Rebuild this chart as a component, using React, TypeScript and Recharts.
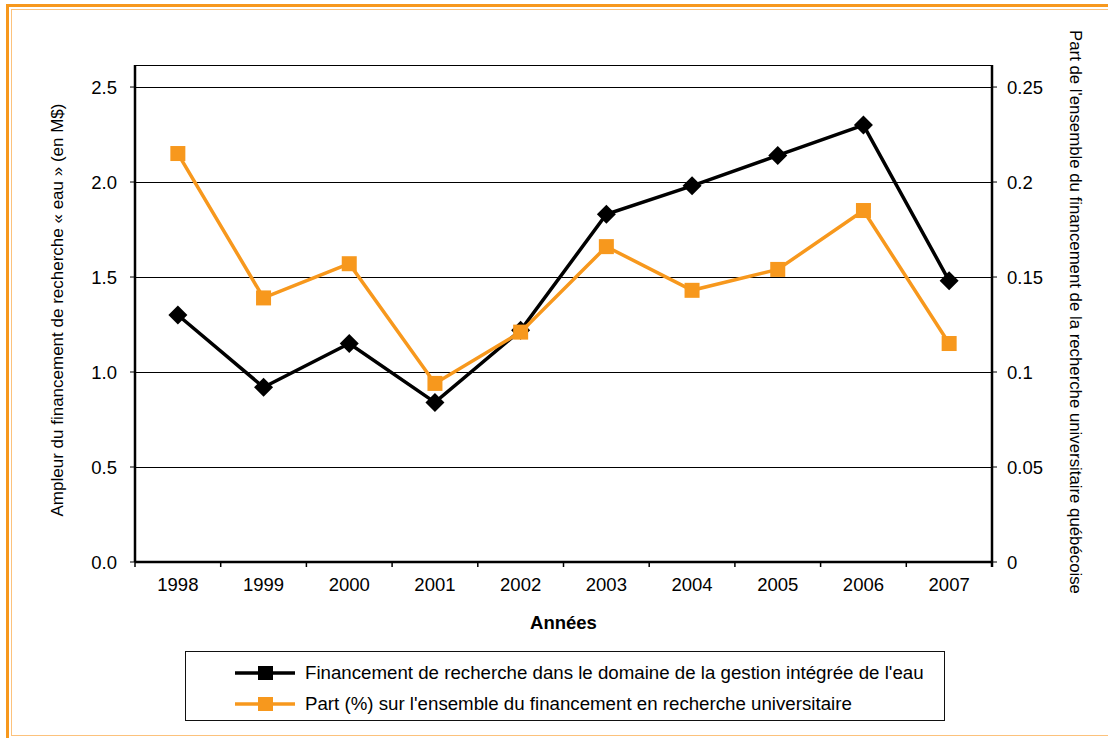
import { CartesianGrid, Legend, Line, LineChart, XAxis, YAxis } from "recharts";

const years = ["1998", "1999", "2000", "2001", "2002", "2003", "2004", "2005", "2006", "2007"];
// ampleur du financement "eau" (M$), left axis
const funding = [1.3, 0.92, 1.15, 0.84, 1.22, 1.83, 1.98, 2.14, 2.3, 1.48];
// part de l'ensemble du financement, right axis
const share = [0.215, 0.139, 0.157, 0.094, 0.121, 0.166, 0.143, 0.154, 0.185, 0.115];
const leftTicks = [0, 0.5, 1, 1.5, 2, 2.5];
const rightTicks = [0, 0.05, 0.1, 0.15, 0.2, 0.25];

const fundingName = "Financement de recherche dans le domaine de la gestion intégrée de l'eau";
const shareName = "Part (%) sur l'ensemble du financement en recherche universitaire";
const leftTitle = "Ampleur du financement de recherche « eau » (en M$)";
const rightTitle = "Part de l'ensemble du financement de la recherche universitaire québécoise";
const xTitle = "Années";

const data = years.map((year, i) => ({ year, funding: funding[i], share: share[i] }));

const FONT = "'Liberation Sans', Arial, Helvetica, sans-serif";
const ORANGE = "#F7981D";
const W = 1108;
const H = 738;
const margin = { top: 65, right: 16, bottom: 136, left: 20 };
const leftAxisW = 115;
const rightAxisW = 100;
const plotW = W - margin.left - margin.right - leftAxisW - rightAxisW;
const band = plotW / years.length;

function Diamond(props: any) {
  const { cx, cy, index } = props;
  if (cx == null || cy == null) return null;
  const r = 9.5;
  return (
    <polygon
      key={`dia-${index}`}
      points={`${cx},${cy - r} ${cx + r},${cy} ${cx},${cy + r} ${cx - r},${cy}`}
      fill="#000"
    />
  );
}

function Square(props: any) {
  const { cx, cy, index } = props;
  if (cx == null || cy == null) return null;
  const s = 15;
  return <rect key={`sq-${index}`} x={cx - s / 2} y={cy - s / 2} width={s} height={s} fill={ORANGE} />;
}

function YearTick(props: any) {
  const { x, y, payload, index } = props;
  const half = band / 2;
  return (
    <g>
      <line x1={x - half} x2={x - half} y1={y} y2={y + 5} stroke="#000" strokeWidth={1.5} />
      {index === years.length - 1 && (
        <line x1={x + half} x2={x + half} y1={y} y2={y + 5} stroke="#000" strokeWidth={2.5} />
      )}
      <text x={x} y={y + 29} textAnchor="middle" fontSize={18.5} fontFamily={FONT} fill="#000">
        {payload.value}
      </text>
    </g>
  );
}

function LegendBox(props: any) {
  const items = props.payload || [];
  return (
    <div
      style={{
        width: 760,
        height: 70,
        border: "1px solid #111",
        boxSizing: "border-box",
        paddingTop: 5,
        background: "#fff",
        fontFamily: FONT,
        fontSize: 18.7,
        color: "#000",
      }}
    >
      {items.map((it: any) => (
        <div key={it.value} style={{ display: "flex", alignItems: "center", height: 31, paddingLeft: 49 }}>
          <svg width={60} height={16} style={{ marginRight: 10 }}>
            <line x1={0} x2={60} y1={8} y2={8} stroke={it.color} strokeWidth={3.5} />
            <rect x={23} y={1} width={15} height={14} fill={it.color} />
          </svg>
          <span style={{ whiteSpace: "nowrap" }}>{it.value}</span>
        </div>
      ))}
    </div>
  );
}

export default function App() {
  return (
    <div style={{ position: "absolute", left: 0, top: 0, width: W, height: H, overflow: "hidden", background: "#fff" }}>
      <div
        style={{
          position: "absolute",
          left: 6,
          top: 4,
          width: 1140,
          height: 760,
          border: `3px solid ${ORANGE}`,
          boxSizing: "border-box",
        }}
      />
      <div
        style={{
          position: "absolute",
          left: 11,
          top: 9,
          width: 1140,
          height: 727,
          border: "1.5px solid #FCC27C",
          boxSizing: "border-box",
        }}
      />
      <div style={{ position: "absolute", left: 0, top: 0 }}>
        <LineChart width={W} height={H} data={data} margin={margin}>
          <CartesianGrid yAxisId="left" vertical={false} stroke="#000" strokeWidth={1} shapeRendering="crispEdges" />
          <XAxis
            dataKey="year"
            padding={{ left: band / 2, right: band / 2 }}
            axisLine={{ stroke: "#000", strokeWidth: 2.5 }}
            tickLine={false}
            tickSize={0}
            tickMargin={0}
            height={40}
            tick={<YearTick />}
            interval={0}
            label={{
              content: (p: any) => {
                const vb = p.viewBox;
                return (
                  <text
                    x={vb.x + vb.width / 2}
                    y={vb.y + 67}
                    textAnchor="middle"
                    fontFamily={FONT}
                    fontWeight="bold"
                    fontSize={18.5}
                    fill="#000"
                  >
                    {xTitle}
                  </text>
                );
              },
            }}
          />
          <YAxis
            yAxisId="left"
            width={leftAxisW}
            domain={[0, 2.616]}
            ticks={leftTicks}
            tickFormatter={(v: number) => v.toFixed(1)}
            axisLine={{ stroke: "#000", strokeWidth: 2.5 }}
            tickLine={{ stroke: "#000", strokeWidth: 1 }}
            tickSize={5}
            tickMargin={13}
            tick={{ fill: "#000", fontSize: 18.5, fontFamily: FONT }}
            label={{
              content: (p: any) => {
                const vb = p.viewBox;
                const cx = vb.x + 37;
                const cy = 310;
                return (
                  <text
                    x={cx}
                    y={cy}
                    transform={`rotate(-90, ${cx}, ${cy})`}
                    textAnchor="middle"
                    dominantBaseline="central"
                    fontFamily={FONT}
                    fontSize={17}
                    fill="#000"
                  >
                    {leftTitle}
                  </text>
                );
              },
            }}
          />
          <YAxis
            yAxisId="right"
            orientation="right"
            width={rightAxisW}
            domain={[0, 0.2616]}
            ticks={rightTicks}
            axisLine={{ stroke: "#000", strokeWidth: 2.5 }}
            tickLine={{ stroke: "#000", strokeWidth: 1 }}
            tickSize={5}
            tickMargin={10}
            tick={{ fill: "#000", fontSize: 18.5, fontFamily: FONT }}
            label={{
              content: (p: any) => {
                const vb = p.viewBox;
                const cx = vb.x + 83;
                const cy = 312;
                return (
                  <text
                    x={cx}
                    y={cy}
                    transform={`rotate(90, ${cx}, ${cy})`}
                    textAnchor="middle"
                    dominantBaseline="central"
                    fontFamily={FONT}
                    fontSize={16.8}
                    fill="#000"
                  >
                    {rightTitle}
                  </text>
                );
              },
            }}
          />
          <Line
            yAxisId="left"
            dataKey="funding"
            name={fundingName}
            stroke="#000"
            strokeWidth={3.5}
            dot={Diamond}
            activeDot={false}
            isAnimationActive={false}
          />
          <Line
            yAxisId="right"
            dataKey="share"
            name={shareName}
            stroke={ORANGE}
            strokeWidth={3.5}
            dot={Square}
            activeDot={false}
            isAnimationActive={false}
          />
          <Legend
            layout="vertical"
            align="center"
            verticalAlign="middle"
            content={<LegendBox />}
            wrapperStyle={{ left: 185, top: 651, width: 760, height: 70 }}
          />
        </LineChart>
      </div>
    </div>
  );
}
